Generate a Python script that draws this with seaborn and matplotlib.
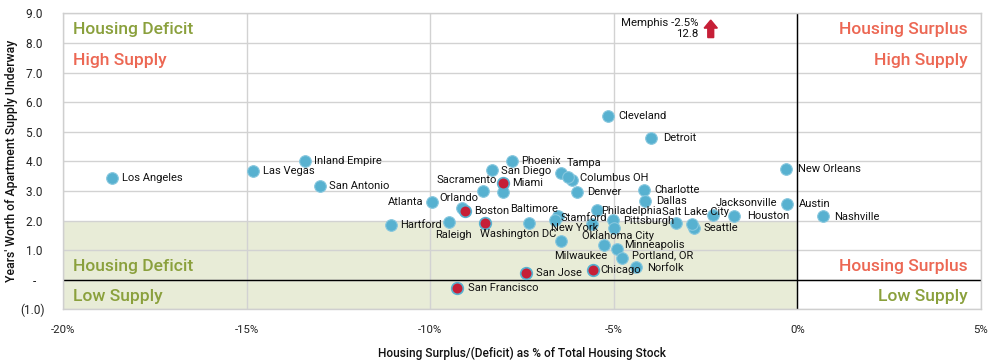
import matplotlib
matplotlib.use("Agg")
import matplotlib.pyplot as plt
import seaborn as sns
import pandas as pd
from matplotlib.patches import Rectangle

# ---------------- data ----------------
cities = ["Los Angeles", "Las Vegas", "Inland Empire", "San Antonio", "Atlanta", "Orlando",
          "Boston", "Hartford", "Raleigh", "Washington DC", "Baltimore", "Sacramento", "Miami",
          "_u1", "San Diego", "Phoenix", "Tampa", "Columbus OH", "_u2", "Denver", "Cleveland",
          "Detroit", "Charlotte", "Dallas", "Philadelphia", "Stamford", "_u3", "New York",
          "Pittsburgh", "_u4", "Oklahoma City", "Milwaukee", "Minneapolis", "Portland, OR",
          "Norfolk", "Chicago", "San Jose", "San Francisco", "Salt Lake City", "Jacksonville",
          "Houston", "Seattle", "_u5", "New Orleans", "Austin", "Nashville"]
surplus_pct = [-18.67, -14.83, -13.42, -13.00, -9.94, -9.13,
               -9.06, -11.08, -9.48, -8.51, -7.30, -8.56, -8.02,
               -8.03, -8.33, -7.77, -6.43, -6.15, -6.25, -6.00, -5.15,
               -3.98, -4.18, -4.16, -5.47, -6.51, -6.61, -5.59,
               -5.02, -5.00, -5.27, -6.43, -4.92, -4.78,
               -4.40, -5.57, -7.38, -9.27, -3.31, -2.30,
               -1.73, -2.82, -2.87, -0.30, -0.28, 0.71]
supply_years = [3.42, 3.67, 4.01, 3.17, 2.61, 2.43,
                2.33, 1.85, 1.94, 1.91, 1.92, 3.00, 3.27,
                2.95, 3.71, 4.01, 3.59, 3.37, 3.48, 2.97, 5.53,
                4.80, 3.04, 2.66, 2.35, 2.16, 2.02, 1.88,
                2.02, 1.75, 1.17, 1.31, 1.04, 0.74,
                0.44, 0.33, 0.22, -0.27, 1.91, 2.20,
                2.16, 1.76, 1.87, 3.74, 2.57, 2.14]
highlight = ["Boston", "Washington DC", "Miami", "Chicago", "San Jose", "San Francisco"]

x_ticks = [-20, -15, -10, -5, 0, 5]
x_tick_labels = ["-20%", "-15%", "-10%", "-5%", "0%", "5%"]
y_ticks = [9, 8, 7, 6, 5, 4, 3, 2, 1, 0, -1]
y_tick_labels = ["9.0 ", "8.0 ", "7.0 ", "6.0 ", "5.0 ", "4.0 ", "3.0 ", "2.0 ", "1.0 ", "-   ", "(1.0)"]

memphis_text = "Memphis -2.5%\n12.8"
memphis_x = -2.5

# label placement (pixel offsets dx, dy, horizontal alignment)
label_pos = {
    "Los Angeles": (10, 0, "left"), "Las Vegas": (10, 0, "left"), "Inland Empire": (9, 0, "left"),
    "San Antonio": (9, 0, "left"), "Atlanta": (-9, 0, "right"), "Orlando": (-3, 10, "center"),
    "Boston": (9, 0, "left"), "Hartford": (10, 0, "left"), "Raleigh": (4, -13, "center"),
    "Washington DC": (-5, -11, "left"), "Baltimore": (-19, 14, "left"),
    "Sacramento": (14, 11, "right"), "Miami": (9, 0, "left"), "San Diego": (9, -1, "left"),
    "Phoenix": (9, 0, "left"), "Tampa": (5, 10, "left"), "Columbus OH": (8, 2, "left"),
    "Denver": (10, 0, "left"), "Cleveland": (10, 0, "left"), "Detroit": (12, 0, "left"),
    "Charlotte": (10, 0, "left"), "Dallas": (11, 0, "left"), "Philadelphia": (5, -1, "left"),
    "Stamford": (2, -2, "left"), "New York": (6, -4, "right"), "Pittsburgh": (10, -1, "left"),
    "Oklahoma City": (14, 9, "center"), "Milwaukee": (-7, -15, "left"),
    "Minneapolis": (7, 4, "left"), "Portland, OR": (10, 3, "left"), "Norfolk": (11, -1, "left"),
    "Chicago": (8, 0, "left"), "San Jose": (10, 0, "left"), "San Francisco": (11, 0, "left"),
    "Salt Lake City": (-14, 11, "left"), "Jacksonville": (3, 12, "left"),
    "Houston": (13, 0, "left"), "Seattle": (10, 0, "left"), "New Orleans": (12, 0, "left"),
    "Austin": (12, 0, "left"), "Nashville": (11, -1, "left"),
}

df = pd.DataFrame({"city": cities, "x": surplus_pct, "y": supply_years})
df["group"] = ["hi" if c in highlight else "base" for c in cities]

BLUE = "#57b1d0"
RED = "#c61f37"
GREEN_TXT = "#8aa03c"
RED_TXT = "#ec6753"
GREEN_FILL = "#e8ecd7"

sns.set_theme(style="white")
plt.rcParams["font.family"] = ["Roboto", "DejaVu Sans"]

fig = plt.figure(figsize=(9.91, 3.63), dpi=100)
ax = fig.add_axes([63 / 991, (363 - 309.3) / 363, (981 - 63) / 991, (309.3 - 13.3) / 363])

ax.set_xlim(-20, 5)
ax.set_ylim(-1, 9)

ax.add_patch(Rectangle((-20, -1), 20, 3, facecolor=GREEN_FILL, edgecolor="none", zorder=0.2))
ax.set_axisbelow(True)
ax.grid(True, color="#d2d2d2", lw=1)
ax.axvline(0, color="black", lw=1, zorder=1)
ax.axhline(0, color="black", lw=1, zorder=1)

base = df[df.group == "base"]
hi = df[df.group == "hi"]
sns.scatterplot(data=base, x="x", y="y", ax=ax, color=BLUE, s=70, edgecolor="#86c7de",
                linewidth=0.8, zorder=3, legend=False)
sns.scatterplot(data=hi, x="x", y="y", ax=ax, color=RED, s=70, edgecolor=BLUE,
                linewidth=1.2, zorder=4, legend=False)

for _, r in df.iterrows():
    if r.city not in label_pos:
        continue
    dx, dy, ha = label_pos[r.city]
    ax.annotate(r.city, (r.x, r.y), xytext=(dx, dy), textcoords="offset pixels",
                ha=ha, va="center", fontsize=8.0, color="#111111", zorder=5)

for spine in ax.spines.values():
    spine.set_color("#cfcfcf")
    spine.set_linewidth(1)

ax.set_xticks(x_ticks)
ax.set_xticklabels(x_tick_labels)
ax.set_yticks(y_ticks)
ax.set_yticklabels(y_tick_labels)
ax.tick_params(axis="x", length=0, pad=11, labelsize=8.2, labelcolor="#222222")
ax.tick_params(axis="y", length=0, pad=13, labelsize=8.5, labelcolor="#222222")

ax.set_xlabel("Housing Surplus/(Deficit) as % of Total Housing Stock", fontsize=8.6,
              fontweight="medium", color="#111111", labelpad=9)
ax.set_ylabel("Years' Worth of Apartment Supply Underway", fontsize=8.8,
              fontweight="medium", color="#111111", labelpad=2)

qfs = 12.6
ax.text(-19.74, 8.44, "Housing Deficit", color=GREEN_TXT, fontsize=qfs, fontweight="medium", ha="left", va="center")
ax.text(-19.74, 7.42, "High Supply", color=RED_TXT, fontsize=qfs, fontweight="medium", ha="left", va="center")
ax.text(4.63, 8.44, "Housing Surplus", color=RED_TXT, fontsize=qfs, fontweight="medium", ha="right", va="center")
ax.text(4.63, 7.42, "High Supply", color=RED_TXT, fontsize=qfs, fontweight="medium", ha="right", va="center")
ax.text(-19.74, 0.43, "Housing Deficit", color=GREEN_TXT, fontsize=qfs, fontweight="medium", ha="left", va="center")
ax.text(-19.74, -0.58, "Low Supply", color=GREEN_TXT, fontsize=qfs, fontweight="medium", ha="left", va="center")
ax.text(4.63, 0.43, "Housing Surplus", color=RED_TXT, fontsize=qfs, fontweight="medium", ha="right", va="center")
ax.text(4.63, -0.58, "Low Supply", color=GREEN_TXT, fontsize=qfs, fontweight="medium", ha="right", va="center")

ax.text(memphis_x - 0.19, 8.49, memphis_text, ha="right", va="center", multialignment="right",
        fontsize=8.2, color="#111111", linespacing=1.1)
ax.arrow(memphis_x + 0.14, 8.18, 0, 0.59, width=0.16, head_width=0.36, head_length=0.27,
         length_includes_head=True, color=RED, zorder=5)

fig.savefig("out.png", dpi=100)
